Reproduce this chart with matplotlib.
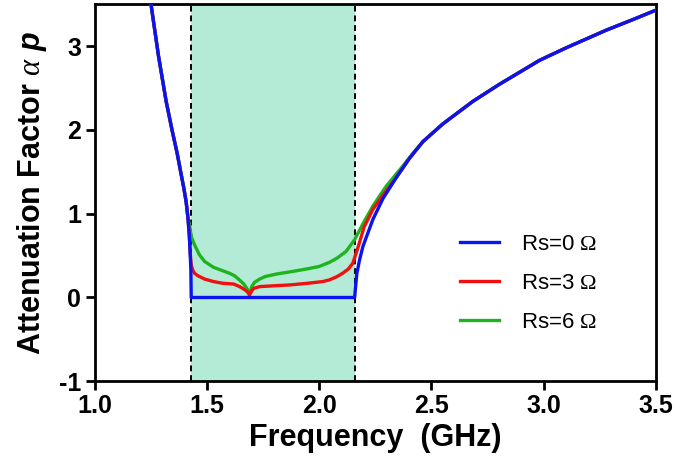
import numpy as np
import matplotlib
matplotlib.use("Agg")
import matplotlib.pyplot as plt

plt.rcParams['font.family'] = ['Liberation Sans', 'DejaVu Sans']
plt.rcParams['mathtext.fontset'] = 'custom'
plt.rcParams['mathtext.rm'] = 'Liberation Serif'
plt.rcParams['mathtext.it'] = 'Liberation Serif:italic'
plt.rcParams['mathtext.bfit'] = 'Liberation Sans:italic:bold'

# ---- data ----
band_edges = [1.43, 2.16]

# Rs = 0 : left branch (below band), flat in band, right branch (above band)
blue_left_f = [1.245, 1.252, 1.285, 1.319, 1.345, 1.368, 1.385, 1.398, 1.408, 1.416, 1.422, 1.426, 1.429, 1.4305]
blue_left_a = [3.60, 3.49, 2.88, 2.34, 2.00, 1.72, 1.48, 1.30, 1.14, 0.95, 0.74, 0.53, 0.32, 0.0]
blue_right_f = [2.158, 2.162, 2.168, 2.180, 2.195, 2.217, 2.239, 2.284, 2.343, 2.402, 2.462, 2.55, 2.684, 2.80, 2.981, 3.10, 3.278, 3.40, 3.50]
blue_right_a = [0.0, 0.12, 0.29, 0.45, 0.61, 0.77, 0.93, 1.18, 1.43, 1.66, 1.86, 2.07, 2.34, 2.54, 2.83, 2.98, 3.19, 3.32, 3.43]

# Rs = 3 : in-band part (joins the Rs=0 curve outside)
red_band_f = [1.428, 1.431, 1.437, 1.445, 1.46, 1.49, 1.53, 1.57, 1.62, 1.646, 1.665, 1.68, 1.69, 1.70, 1.71, 1.735, 1.80,
              1.87, 1.95, 2.016, 2.046, 2.08, 2.105, 2.13, 2.150, 2.165, 2.18, 2.20, 2.239, 2.284]
red_band_a = [0.46, 0.38, 0.33, 0.29, 0.26, 0.22, 0.19, 0.17, 0.16, 0.13, 0.10, 0.07, 0.03, 0.08, 0.11, 0.13, 0.14,
              0.15, 0.17, 0.19, 0.21, 0.25, 0.29, 0.34, 0.41, 0.53, 0.66, 0.84, 1.05, 1.22]

# Rs = 6 : in-band part
green_band_f = [1.422, 1.427, 1.433, 1.445, 1.467, 1.49, 1.53, 1.57, 1.60, 1.623, 1.645, 1.665, 1.68, 1.69, 1.70, 1.712,
                1.735, 1.76, 1.81, 1.88, 1.943, 2.00, 2.046, 2.08, 2.12, 2.158, 2.195, 2.239, 2.299, 2.373, 2.42]
green_band_a = [0.88, 0.79, 0.71, 0.63, 0.51, 0.43, 0.36, 0.32, 0.29, 0.26, 0.21, 0.16, 0.10, 0.04, 0.13, 0.18,
                0.22, 0.25, 0.28, 0.31, 0.34, 0.37, 0.42, 0.47, 0.55, 0.69, 0.88, 1.09, 1.33, 1.57, 1.73]

labels = ['Rs=0 $\\Omega$', 'Rs=3 $\\Omega$', 'Rs=6 $\\Omega$']
colors = ['#0a14f0', '#f01010', '#1eb41e']

# ---- assemble series ----
bl_f = np.array(blue_left_f); bl_a = np.array(blue_left_a)
br_f = np.array(blue_right_f); br_a = np.array(blue_right_a)
blue_f = np.concatenate([bl_f, br_f])
blue_a = np.concatenate([bl_a, br_a])

rf = np.array(red_band_f); ra = np.array(red_band_a)
red_f = np.concatenate([bl_f[bl_f < rf[0]], rf, br_f[br_f > rf[-1] + 0.03]])
red_a = np.concatenate([bl_a[bl_f < rf[0]], ra, br_a[br_f > rf[-1] + 0.03]])

gf = np.array(green_band_f); ga = np.array(green_band_a)
green_f = np.concatenate([bl_f[bl_f < gf[0] - 0.004], gf, br_f[br_f > gf[-1] + 0.03]])
green_a = np.concatenate([bl_a[bl_f < gf[0] - 0.004], ga, br_a[br_f > gf[-1] + 0.03]])

# ---- figure ----
fig = plt.figure(figsize=(6.75, 4.65), dpi=100)
ax = fig.add_axes([0.140, 0.180, 0.832, 0.811])

ax.axvspan(band_edges[0], band_edges[1], color='#b4ebd6', zorder=0, lw=0)
for e in band_edges:
    ax.axvline(e, color='black', lw=1.4, ls=(0, (3, 2)), zorder=1)

lw = 2.4
ax.plot(green_f, green_a, color=colors[2], lw=lw, zorder=3, label=labels[2], solid_joinstyle='round')
ax.plot(red_f, red_a, color=colors[1], lw=lw, zorder=4, label=labels[1], solid_joinstyle='round')
ax.plot(blue_f, blue_a, color=colors[0], lw=lw, zorder=5, label=labels[0], solid_joinstyle='round')

ax.set_xlim(1.0, 3.5)
ax.set_ylim(-1, 3.5)
ax.set_xticks([1.0, 1.5, 2.0, 2.5, 3.0, 3.5])
ax.set_xticklabels(['1.0', '1.5', '2.0', '2.5', '3.0', '3.5'])
ax.set_yticks([-1, 0, 1, 2, 3])
ax.set_yticklabels(['-1', '0', '1', '2', '3'])

for s in ax.spines.values():
    s.set_linewidth(2.0)
ax.tick_params(direction='out', length=6.5, width=2.0, labelsize=18, pad=3)
for t in ax.get_xticklabels() + ax.get_yticklabels():
    t.set_fontweight('bold')

ax.set_xlabel('Frequency  (GHz)', fontsize=22, fontweight='bold', labelpad=3)
ax.set_ylabel('Attenuation Factor $\\alpha$ $\\mathbfit{p}$', fontsize=22, fontweight='bold', labelpad=7)

h, l = ax.get_legend_handles_labels()
order = [2, 1, 0]
leg = ax.legend([h[i] for i in order], [l[i] for i in order], loc='center left',
                bbox_to_anchor=(0.651, 0.26), frameon=False, fontsize=16,
                handlelength=1.75, handletextpad=1.0, labelspacing=0.8,
                borderpad=0, borderaxespad=0)

fig.savefig('out.png', dpi=100)
